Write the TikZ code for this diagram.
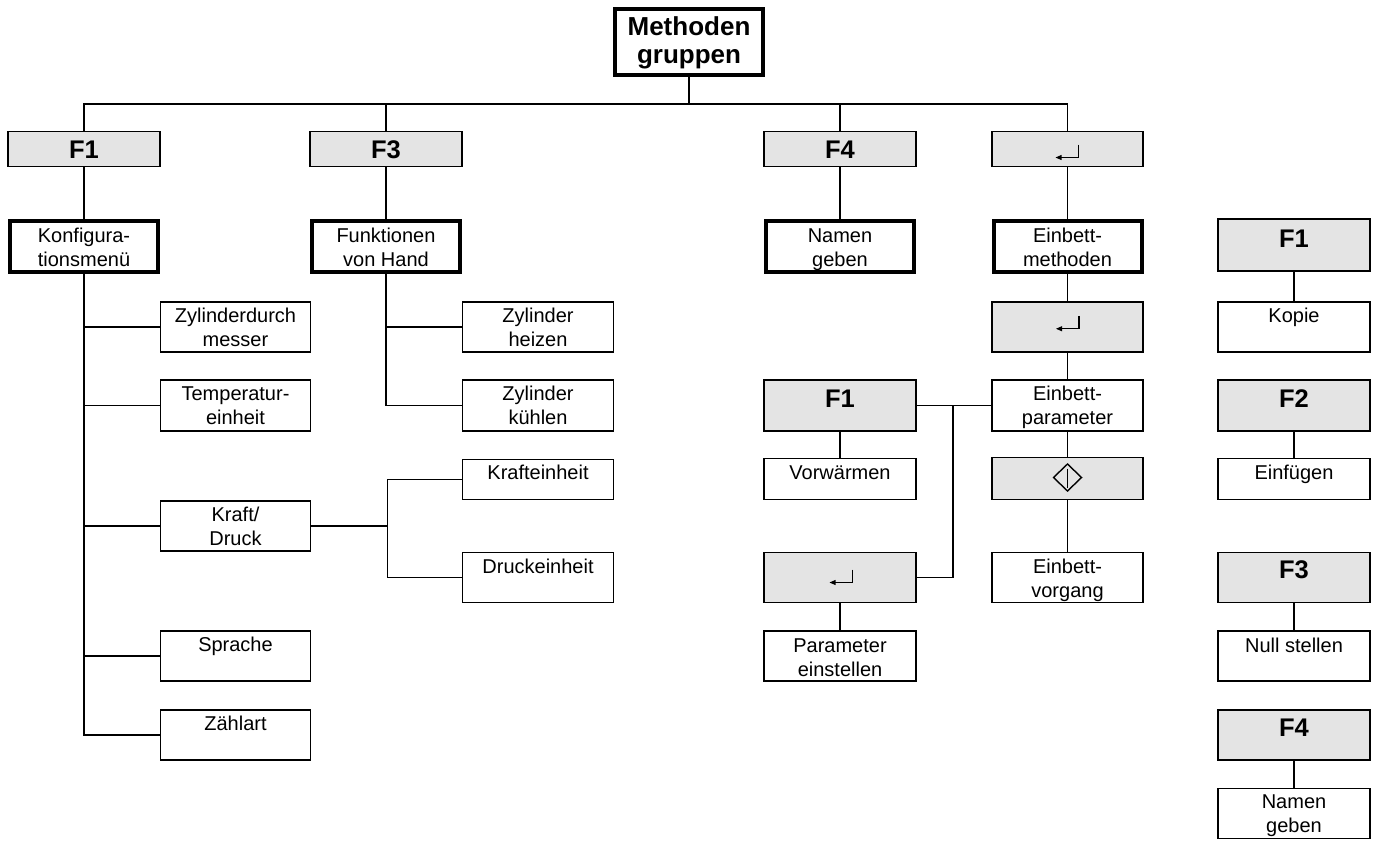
\documentclass[tikz,border=0pt]{standalone}
\usepackage{fontspec}
\setmainfont{Liberation Sans}
\usetikzlibrary{calc}
\definecolor{keygray}{RGB}{228,228,228}
\newcommand\bxt[4]{\parbox[c][#2][t]{#1}{\centering\rule{0pt}{#3}#4}}
\begin{document}
\begin{tikzpicture}[x=1pt,y=-1pt,
  every node/.style={inner sep=0pt, outer sep=0pt, font=\fontsize{20}{24}\selectfont},
  box/.style={draw, line width=1.8pt, fill=white},
  tbox/.style={draw, line width=4pt, fill=white},
  key/.style={draw, line width=1.8pt, fill=keygray, font=\bfseries\fontsize{25.5}{30}\selectfont},
  headbox/.style={draw, line width=4pt, fill=white, font=\bfseries\fontsize{26}{28}\selectfont},
  conn/.style={line width=1.5pt},
  retsym/.pic={\draw[line width=1.4pt] (11,-13) -- (11,0) -- (-7,0);
               \fill (-12,0) -- (-6,-2.6) -- (-6,2.6) -- cycle;},
  startsym/.pic={\draw[line width=1.4pt, line join=miter] (0,-13.5) -- (14,0) -- (0,13.5) -- (-14,0) -- cycle;
                 \draw[line width=1.4pt] (0,-9) -- (0,10);}
]
\useasboundingbox (0,0) rectangle (1378,841);

% top
\node[headbox] (meth) at (689,42) {\bxt{148pt}{66pt}{26pt}{Methoden\\gruppen}};

% row 1 keys
\node[key] (gF1) at (84,149) {\bxt{152pt}{35pt}{26.5pt}{F1}};
\node[key] (gF3) at (386,149) {\bxt{152pt}{35pt}{26.5pt}{F3}};
\node[key] (gF4) at (840,149) {\bxt{152pt}{35pt}{26.5pt}{F4}};
\node[key] (gRet) at (1067.5,149) {\bxt{151pt}{35pt}{0pt}{}};

% row 2 thick boxes
\node[tbox] (konf) at (84,246.3) {\bxt{148pt}{51.5pt}{21.5pt}{Konfigura-\\tionsmenü}};
\node[tbox] (funk) at (386,246.3) {\bxt{148pt}{51.5pt}{21.5pt}{Funktionen\\von Hand}};
\node[tbox] (namen) at (840,246.3) {\bxt{148pt}{51.5pt}{21.5pt}{Namen\\geben}};
\node[tbox] (einm) at (1067.5,246.3) {\bxt{148pt}{51.5pt}{21.5pt}{Einbett-\\methoden}};

% configuration menu
\node[box] (zd) at (235.5,327) {\bxt{150pt}{50.5pt}{21pt}{Zylinderdurch\\messer}};
\node[box] (temp) at (235.5,405.5) {\bxt{150pt}{51.5pt}{21pt}{Temperatur-\\einheit}};
\node[box] (kd) at (235.5,526) {\bxt{150pt}{50.5pt}{21pt}{Kraft/\\Druck}};
\node[box] (sprache) at (235.5,656) {\bxt{150pt}{50.5pt}{21pt}{Sprache}};
\node[box] (zaehl) at (235.5,735) {\bxt{150pt}{50.5pt}{21pt}{Zählart}};

% functions by hand / units
\node[box] (heiz) at (538,327) {\bxt{151pt}{50.5pt}{21pt}{Zylinder\\heizen}};
\node[box] (kuehl) at (538,405.5) {\bxt{151pt}{51.5pt}{21pt}{Zylinder\\kühlen}};
\node[box] (kraftE) at (538,479.5) {\bxt{151pt}{40pt}{20pt}{Krafteinheit}};
\node[box] (druckE) at (538,577.5) {\bxt{151pt}{50pt}{21pt}{Druckeinheit}};

% embedding methods column
\node[key] (retM) at (1067.5,327) {\bxt{151pt}{50.5pt}{0pt}{}};
\node[box] (param) at (1067.5,405.5) {\bxt{151pt}{51.5pt}{21pt}{Einbett-\\parameter}};
\node[key] (dia) at (1067.5,478.5) {\bxt{151pt}{42pt}{0pt}{}};
\node[box] (vorg) at (1067.5,577.5) {\bxt{151pt}{50pt}{21pt}{Einbett-\\vorgang}};

% parameter column
\node[key] (mF1) at (840,405.5) {\bxt{152pt}{51.5pt}{28pt}{F1}};
\node[box] (vorw) at (840,479) {\bxt{152pt}{41pt}{21pt}{Vorwärmen}};
\node[key] (ret2) at (840,577.5) {\bxt{152pt}{50pt}{0pt}{}};
\node[box] (pein) at (840,656) {\bxt{152pt}{50.5pt}{21.5pt}{Parameter\\einstellen}};

% right column
\node[key] (rF1) at (1294,245) {\bxt{152pt}{52pt}{28pt}{F1}};
\node[box] (kopie) at (1294,327) {\bxt{152pt}{50.5pt}{21pt}{Kopie}};
\node[key] (rF2) at (1294,405.5) {\bxt{152pt}{51.5pt}{28pt}{F2}};
\node[box] (einf) at (1294,479) {\bxt{152pt}{41pt}{21pt}{Einfügen}};
\node[key] (rF3) at (1294,577.5) {\bxt{152pt}{50pt}{26pt}{F3}};
\node[box] (null) at (1294,656) {\bxt{152pt}{50.5pt}{21.5pt}{Null stellen}};
\node[key] (rF4) at (1294,735) {\bxt{152pt}{50.5pt}{27pt}{F4}};
\node[box] (rnam) at (1294,813.5) {\bxt{152pt}{50pt}{20pt}{Namen\\geben}};

% key symbols
\pic at ([yshift=-26pt]gRet.north) {retsym};
\pic at ([yshift=-27pt,xshift=0.5pt]retM.north) {retsym};
\pic at ([yshift=-30pt,xshift=1.5pt]ret2.north) {retsym};
\pic at ([yshift=-20pt]dia.north) {startsym};

% connectors
\coordinate (bus) at (689,104);
\draw[conn] (meth.south) -- (bus);
\draw[conn] (gF1.north) |- (bus) -| (gRet.north);
\draw[conn] (gF3.north) -- (gF3.north |- bus);
\draw[conn] (gF4.north) -- (gF4.north |- bus);
\draw[conn] (gF1.south) -- (konf.north);
\draw[conn] (gF3.south) -- (funk.north);
\draw[conn] (gF4.south) -- (namen.north);
\draw[conn] (gRet.south) -- (einm.north);

\draw[conn] (konf.south) |- (zaehl.west);
\draw[conn] (konf.south |- zd.west) -- (zd.west);
\draw[conn] (konf.south |- temp.west) -- (temp.west);
\draw[conn] (konf.south |- kd.west) -- (kd.west);
\draw[conn] (konf.south |- sprache.west) -- (sprache.west);

\draw[conn] (funk.south) |- (kuehl.west);
\draw[conn] (funk.south |- heiz.west) -- (heiz.west);

\coordinate (kj) at ($(kd.east)+(77,0)$);
\draw[conn] (kd.east) -- (kj);
\draw[conn] (kraftE.west) -| (kj) |- (druckE.west);

\draw[conn] (einm.south) -- (retM.north);
\draw[conn] (retM.south) -- (param.north);
\draw[conn] (param.south) -- (dia.north);
\draw[conn] (dia.south) -- (vorg.north);

\coordinate (pj) at ($(param.west)+(-39,0)$);
\draw[conn] (mF1.east) -- (param.west);
\draw[conn] (pj) |- (ret2.east);
\draw[conn] (mF1.south) -- (vorw.north);
\draw[conn] (ret2.south) -- (pein.north);

\draw[conn] (rF1.south) -- (kopie.north);
\draw[conn] (rF2.south) -- (einf.north);
\draw[conn] (rF3.south) -- (null.north);
\draw[conn] (rF4.south) -- (rnam.north);
\end{tikzpicture}
\end{document}
